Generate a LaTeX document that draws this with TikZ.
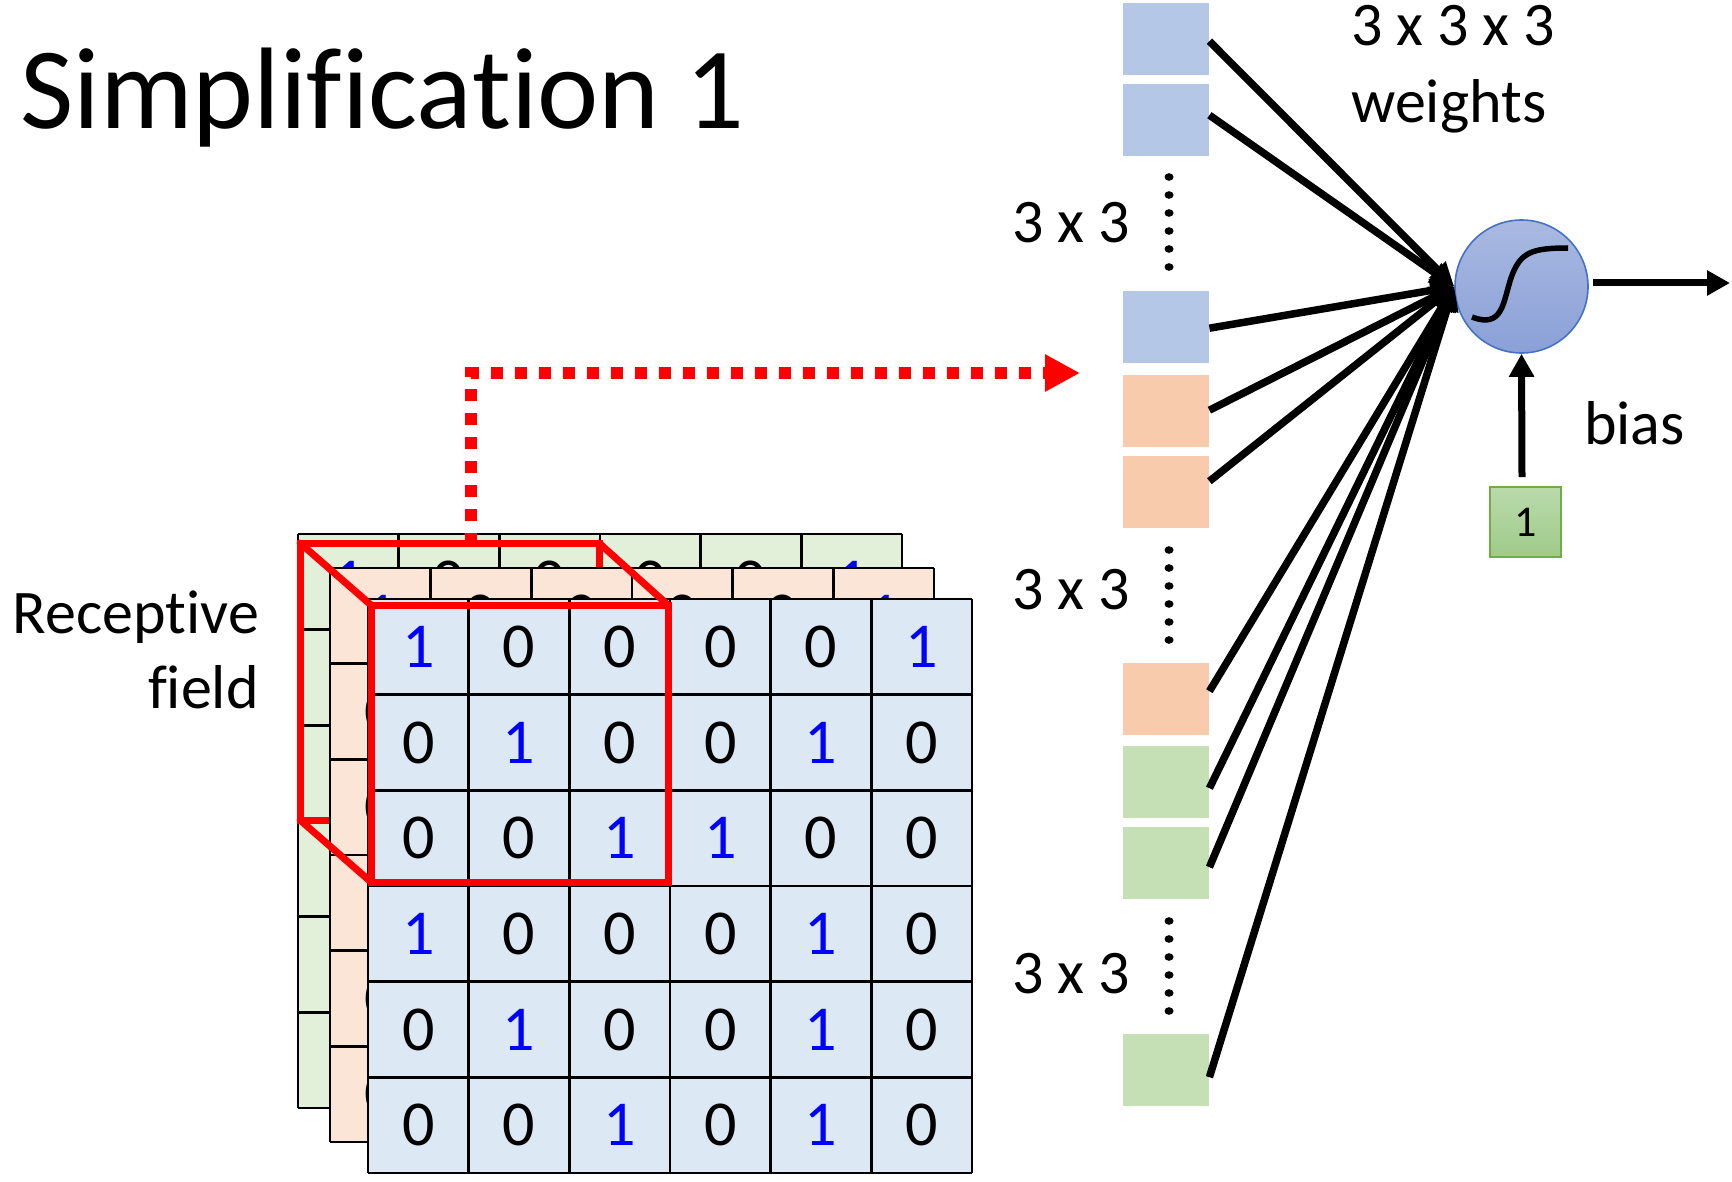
\documentclass[tikz,border=0pt]{standalone}
\usepackage{fontspec}
\setmainfont{Carlito}[RawFeature={-liga;-clig;-dlig;-calt;-rlig}]
\usetikzlibrary{arrows.meta,calc}
\definecolor{gridblue}{HTML}{DDE8F5}
\definecolor{gridpeach}{HTML}{FBE5D6}
\definecolor{gridgreen}{HTML}{E2F0D9}
\definecolor{boxblue}{HTML}{B4C7E7}
\definecolor{boxpeach}{HTML}{F8CBAD}
\definecolor{boxgreen}{HTML}{C5E0B4}
\definecolor{pureblue}{HTML}{0000FF}
\definecolor{purered}{HTML}{FF0000}
\definecolor{neurontop}{HTML}{A9B9E1}
\definecolor{neuronbot}{HTML}{8AA0D7}
\definecolor{neuronedge}{HTML}{4472C4}
\definecolor{onetop}{HTML}{B9DAAA}
\definecolor{onebot}{HTML}{9FCB8A}
\definecolor{oneedge}{HTML}{70AD47}
\newcommand{\nolig}{\kern0pt }
\newcommand{\mygrid}[4]{%
  \fill[#3] (#1,#2) rectangle ++(604,574);
  \foreach \i in {0,...,6} {
    \draw[gridline] ({#1+\i*100.667},#2) -- ++(0,574);
    \draw[gridline] (#1,{#2+\i*95.667}) -- ++(604,0);
  }
  \foreach \rowvals [count=\r from 0] in {{1,0,0,0,0,1},{0,1,0,0,1,0},{0,0,1,1,0,0},{1,0,0,0,1,0},{0,1,0,0,1,0},{0,0,1,0,1,0}} {
    \foreach \v [count=\c from 0] in \rowvals {
      \node[digit\v] (#4-\r-\c) at ({#1+\c*100.667+50.33},{#2+\r*95.667+47.83}) {\v};
    }
  }
}
\begin{document}
\begin{tikzpicture}[x=1pt,y=-1pt,
  gridline/.style={black,line width=2.6pt},
  digit0/.style={inner sep=0pt,font=\fontsize{64}{64}\selectfont,text=black},
  digit1/.style={inner sep=0pt,font=\fontsize{64}{64}\selectfont,text=pureblue},
  txt/.style={inner sep=0pt,anchor=base west,font=\fontsize{62}{74}\selectfont},
  wbox/.style={rectangle,inner sep=0pt,minimum width=86pt,minimum height=72pt,anchor=north west},
  conn/.style={black,line width=7.5pt,-{Triangle[length=24pt,width=22pt]}},
  bigarrow/.style={black,line width=7pt,-{Triangle[length=23pt,width=24pt]}},
  redbox/.style={purered,line width=7pt,line join=miter},
  reddot/.style={purered,line width=12pt,dash pattern=on 12pt off 12pt,-{Triangle[length=35pt,width=35pt]}},
  vdot/.style={black,fill=black}
]
\useasboundingbox (0,0) rectangle (1732,1182);

% title
\node[inner sep=0pt,anchor=base west,font=\fontsize{116}{120}\selectfont] (title) at (20,129) {Simplif\nolig ica\nolig t\nolig ion 1};

% receptive field label
\node[txt,anchor=base east] (rf1) at (259,633) {Recept\nolig ive};
\node[txt,anchor=base east] (rf2) at (259,708) {f\nolig ield};

% back (green) layer
\mygrid{298}{534}{gridgreen}{ga}
% red back face and dotted pointer
\draw[redbox] (300,543) rectangle (599,820);
\coordinate (rfTop) at (471,545);
\coordinate (rfTarget) at (1080,373);
\draw[reddot] (rfTop) -- (rfTop |- rfTarget) -- (rfTarget);
% middle (peach) layer
\mygrid{330}{568}{gridpeach}{gb}
% front (blue) layer
\mygrid{368}{599}{gridblue}{gc}
% red front face and edges
\draw[redbox] (371,605) rectangle (668,882);
\draw[redbox,line cap=round] (300,543) -- (371,605);
\draw[redbox,line cap=round] (599,543) -- (668,605);
\draw[redbox,line cap=round] (300,820) -- (371,882);

% weight boxes
\node[wbox,fill=boxblue]  (b1) at (1123,3) {};
\node[wbox,fill=boxblue]  (b2) at (1123,84) {};
\node[wbox,fill=boxblue]  (b3) at (1123,291) {};
\node[wbox,fill=boxpeach] (b4) at (1123,375) {};
\node[wbox,fill=boxpeach] (b5) at (1123,456) {};
\node[wbox,fill=boxpeach] (b6) at (1123,662.5) {};
\node[wbox,fill=boxgreen] (b7) at (1123,746) {};
\node[wbox,fill=boxgreen] (b8) at (1123,827) {};
\node[wbox,fill=boxgreen] (b9) at (1123,1034) {};

% vertical dots
\foreach \y in {177,550,921} {
  \foreach \k in {0,...,5} {
    \fill[vdot] (1169,{\y+\k*18}) ellipse (4.5pt and 3.8pt);
  }
}

% labels
\node[txt] (l33a) at (1012,243) {3 x 3};
\node[txt] (l33b) at (1012,609) {3 x 3};
\node[txt] (l33c) at (1012,993) {3 x 3};
\node[txt] (l333) at (1351,46) {3 x 3 x 3};
\node[txt] (lw) at (1351,123) {weights};
\node[txt] (lbias) at (1584,444) {bias};

% neuron
\node[circle,minimum size=133pt,inner sep=0pt,top color=neurontop,bottom color=neuronbot,draw=neuronedge,line width=1.6pt] (neuron) at (1521.5,286.5) {};
\draw[black,line width=5.5pt] (1472,317) .. controls (1503,329) and (1503,302) .. (1511,278) .. controls (1520,252) and (1532,248) .. (1568,248);

% bias box
\node[rectangle,minimum width=71pt,minimum height=70pt,inner sep=0pt,top color=onetop,bottom color=onebot,draw=oneedge,line width=1.6pt,font=\fontsize{44}{44}\selectfont] (onebox) at (1525.5,522) {1};

% connectors
\foreach \b/\s in {b1/-2,b2/5,b3/-1,b4/1,b5/11,b6/7.5,b7/-6,b8/-4,b9/-7} {
  \draw[conn] ([yshift=\s pt]\b.east) -- (neuron.west);
}
\coordinate (out) at (1730,283);
\draw[bigarrow] ([xshift=4pt,yshift=3.5pt]neuron.east) -- (out);
\draw[bigarrow] ([shift={(-3.5pt,9pt)}]onebox.north) -- (neuron.south);
\end{tikzpicture}
\end{document}
